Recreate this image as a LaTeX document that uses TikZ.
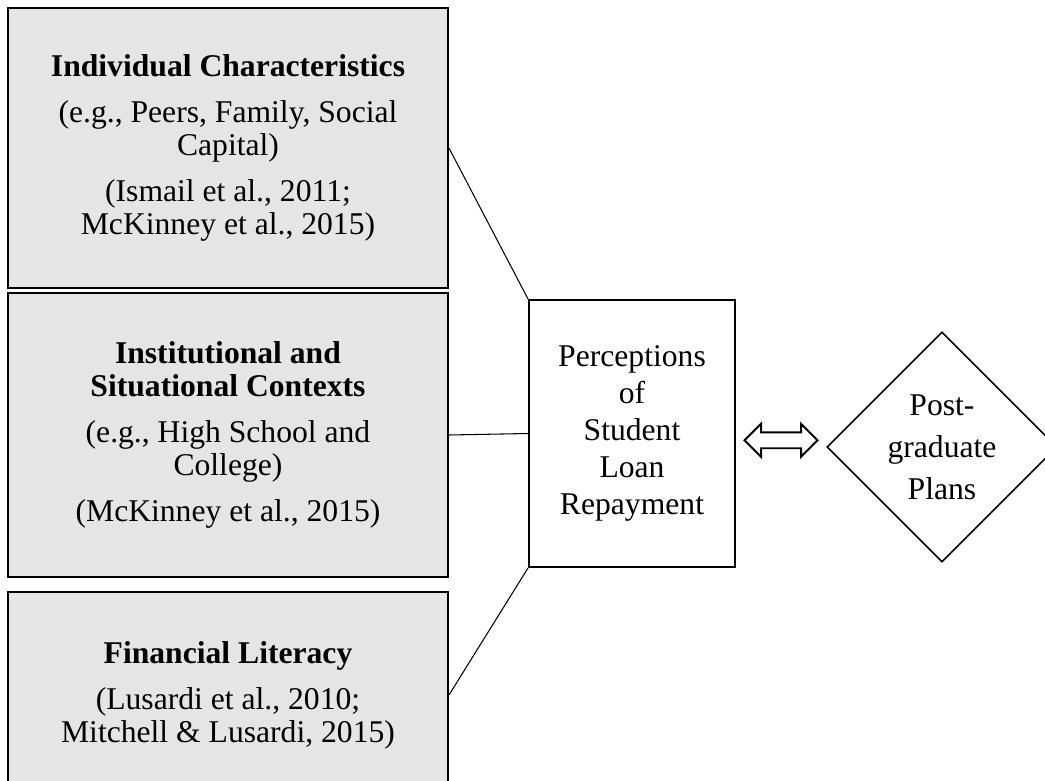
\documentclass[tikz,border=0pt]{standalone}
\usepackage{fontspec}
\setmainfont{Liberation Serif}
\usetikzlibrary{shapes.geometric,shapes.arrows,calc}

\begin{document}
\begin{tikzpicture}[
		every node/.style={font=\fontsize{18}{18.8}\selectfont},
		factor/.style={draw, line width=1.1pt, fill=black!10, align=center, minimum width=8.8cm, inner sep=0pt},
		percbox/.style={draw, line width=1.1pt, align=center, minimum width=4.12cm, minimum height=5.34cm, inner sep=0pt, font=\fontsize{18}{21}\selectfont},
		planbox/.style={diamond, draw, line width=0.9pt, aspect=1, minimum width=4.6cm, minimum height=4.6cm, inner sep=0pt, align=center, font=\fontsize{18}{24}\selectfont},
		link/.style={line width=0.6pt}
	]
		
		\useasboundingbox (0,0) rectangle (20.9,-15.62);
		
		% Draw the three groups of factors
		\node[factor, minimum height=5.6cm] (indiv) at (4.56,-2.96) {\textbf{Individual Characteristics}\\[0.26cm]
			(e.g., Peers, Family, Social\\ Capital)\\[0.26cm]
			(Ismail et al., 2011;\\ McKinney et al., 2015)};
		\node[factor, minimum height=5.68cm] (inst) at (4.56,-8.70) {\textbf{Institutional and}\\ \textbf{Situational Contexts}\\[0.26cm]
			(e.g., High School and\\ College)\\[0.26cm]
			(McKinney et al., 2015)};
		\node[factor, minimum height=4.12cm] (fin) at (4.56,-13.90) {\textbf{Financial Literacy}\\[0.26cm]
			(Lusardi et al., 2010;\\ Mitchell \& Lusardi, 2015)};
		
		% Draw the perceptions and the plans
		\node[percbox] (perc) at (12.64,-8.67) {Perceptions\\ of\\ Student\\ Loan\\ Repayment};
		\node[planbox] (plans) at (18.84,-8.94) {Post-\\ graduate\\ Plans};
		
		% Lines from the factors to the perceptions
		\draw[link] (indiv.east) -- (perc.north west);
		\draw[link] (inst.east) -- (perc.west);
		\draw[link] (fin.east) -- (perc.south west);
		
		% Two-way arrow
		\node[double arrow, draw, line width=1.1pt, minimum width=0.62cm, minimum height=1.46cm, double arrow head extend=0.17cm, inner xsep=0pt, inner ysep=0.14cm] (both) at ($(perc.east)!0.5!(plans.west)$ |- plans.west) {};
		
	\end{tikzpicture}
\end{document}
